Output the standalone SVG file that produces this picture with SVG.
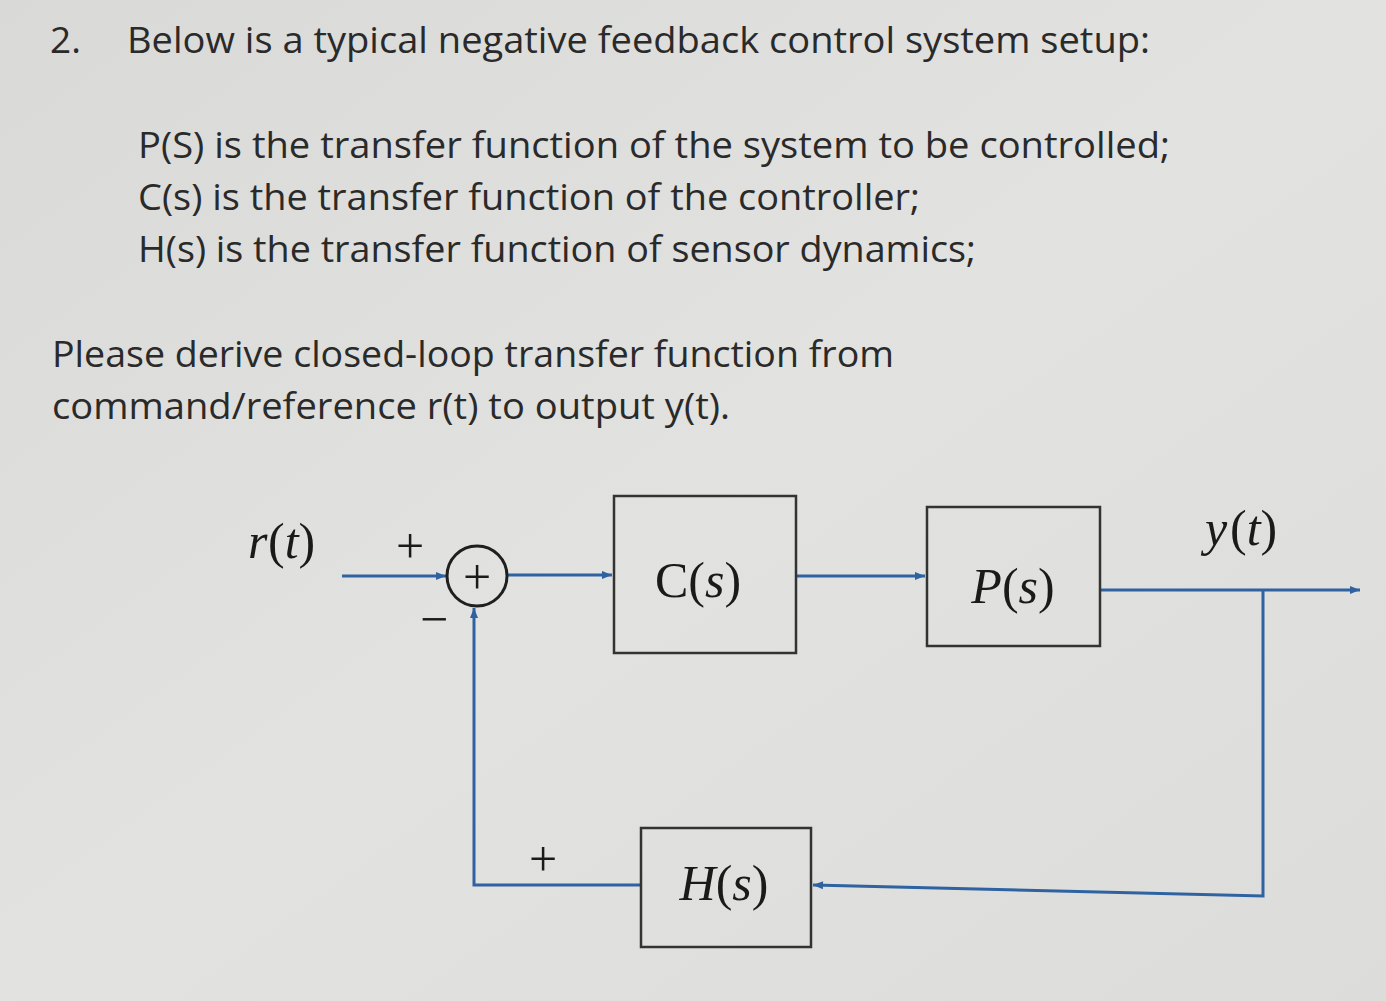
<svg xmlns="http://www.w3.org/2000/svg" width="1386" height="1001" viewBox="0 0 1386 1001">
<defs>
<linearGradient id="bg" x1="0" y1="0" x2="1" y2="1">
<stop offset="0" stop-color="#d9d9d7"/><stop offset="0.5" stop-color="#e2e2e0"/><stop offset="1" stop-color="#dcdcda"/>
</linearGradient>
<marker id="ar" viewBox="0 0 10 10" refX="10" refY="5" markerWidth="13" markerHeight="10" markerUnits="userSpaceOnUse" orient="auto">
<path d="M0,1 L10,5 L0,9 Z" fill="#2f62a0"/>
</marker>
<style>
.t{font-family:"Open Sans","Liberation Sans",sans-serif;font-size:37px;fill:#2a2a2a}
.m{font-family:"Liberation Serif",serif;font-size:50px;fill:#1a1a1a}
.box{fill:none;stroke:#333;stroke-width:2.5}
.ln{fill:none;stroke:#2f62a0;stroke-width:3}
</style>
</defs>
<rect width="1386" height="1001" fill="url(#bg)"/>
<g id="text">
<text class="t" x="50" y="53">2.</text>
<text class="t" x="127" y="53" textLength="1023" lengthAdjust="spacingAndGlyphs">Below is a typical negative feedback control system setup:</text>
<text class="t" x="138" y="158" textLength="1032" lengthAdjust="spacingAndGlyphs">P(S) is the transfer function of the system to be controlled;</text>
<text class="t" x="138" y="210" textLength="782" lengthAdjust="spacingAndGlyphs">C(s) is the transfer function of the controller;</text>
<text class="t" x="138" y="262" textLength="838" lengthAdjust="spacingAndGlyphs">H(s) is the transfer function of sensor dynamics;</text>
<text class="t" x="52" y="367" textLength="842" lengthAdjust="spacingAndGlyphs">Please derive closed-loop transfer function from</text>
<text class="t" x="52" y="419" textLength="678" lengthAdjust="spacingAndGlyphs">command/reference r(t) to output y(t).</text>
</g>
<g id="connectors">
<line class="ln" x1="342" y1="576" x2="446" y2="576" marker-end="url(#ar)"/>
<line class="ln" x1="507" y1="575" x2="612" y2="575" marker-end="url(#ar)"/>
<line class="ln" x1="796" y1="576" x2="925" y2="576" marker-end="url(#ar)"/>
<line class="ln" x1="1100" y1="590" x2="1360" y2="590" marker-end="url(#ar)"/>
<polyline class="ln" points="1263,590 1263,896 813,885" marker-end="url(#ar)"/>
<polyline class="ln" points="641,885 474,885 474,608" marker-end="url(#ar)"/>
</g>
<g id="sum">
<circle cx="477" cy="576" r="30" fill="none" stroke="#1f1f1f" stroke-width="3"/>
<text class="m" x="477" y="594" text-anchor="middle" font-size="48">+</text>
<text class="m" x="410" y="563" text-anchor="middle" font-size="54">+</text>
<text class="m" x="434" y="636" text-anchor="middle" font-size="54">−</text>
<text class="m" x="543" y="876" text-anchor="middle" font-size="54">+</text>
</g>
<g id="r"><text class="m" x="248" y="558" font-style="italic">r</text><text class="m" x="268" y="558">(<tspan font-style="italic">t</tspan>)</text></g>
<g id="y"><text class="m" x="1205" y="545" font-style="italic">y</text><text class="m" x="1230" y="545">(<tspan font-style="italic">t</tspan>)</text></g>
<g id="C"><rect class="box" x="614" y="496" width="182" height="157"/><text class="m" x="698" y="597" text-anchor="middle">C(<tspan font-style="italic">s</tspan>)</text></g>
<g id="P"><rect class="box" x="927" y="507" width="173" height="139"/><text class="m" x="1013" y="603" text-anchor="middle"><tspan font-style="italic">P</tspan>(<tspan font-style="italic">s</tspan>)</text></g>
<g id="H"><rect class="box" x="641" y="828" width="170" height="119"/><text class="m" x="724" y="900" text-anchor="middle"><tspan font-style="italic">H</tspan>(<tspan font-style="italic">s</tspan>)</text></g>
</svg>
